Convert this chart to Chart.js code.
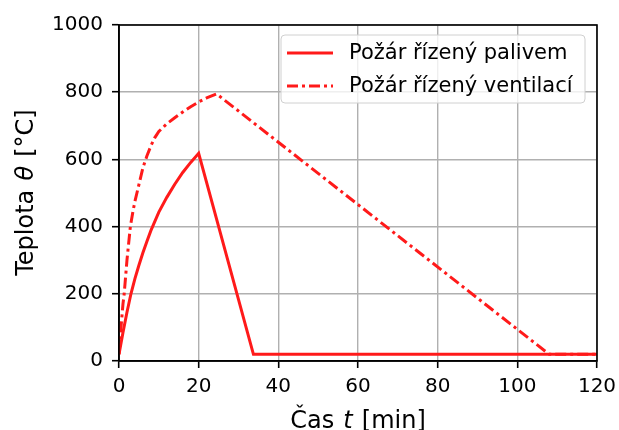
<!DOCTYPE html>
<html><head><meta charset="utf-8">
<script src="https://cdn.jsdelivr.net/npm/chart.js@4"></script>
<style>html,body{margin:0;padding:0;background:#fff}#wrap{width:619px;height:430px;position:relative}</style>
</head><body><div id="wrap"><canvas id="c" width="619" height="430"></canvas></div>
<script>
// Data
const fuelTime = [0,1,2,3,4,5,6,7,8,10,12,14,16,18,20,33.75,120];
const fuelTemp = [20,85,145,200,245,285,322,356,388,443,487,526,561,591,618,20,20];
const ventTime = [0,0.5,1,1.3,2,2.85,3.5,4,5,6,7,8,9,10,12,14,16,18,20,22,24.5,108,120];
const ventTemp = [20,100,170,200,300,400,445,475,525,575,610,640,665,683,706,724,741,757,771,783,795,20,20];
const seriesLabels = ['Požár řízený palivem','Požár řízený ventilací'];
const xTicks = [0,20,40,60,80,100,120];
const yTicks = [0,200,400,600,800,1000];
const xTitleParts = [['Čas ',false],['t',true],[' [min]',false]];
const yTitleParts = [['Teplota ',false],['θ',true],[' [°C]',false]];

const FONT = '"DejaVu Sans", sans-serif';
const toPts = (xs, ys) => xs.map((x,i)=>({x:x,y:ys[i]}));

function drawParts(ctx, parts, size){
  const extra = 1.5;
  let w = 0;
  parts.forEach(p=>{ctx.font=(p[1]?'italic ':'')+size+'px '+FONT; w+=ctx.measureText(p[0]).width+(p[1]?2*extra:0);});
  let x = -w/2;
  parts.forEach(p=>{
    ctx.font=(p[1]?'italic ':'')+size+'px '+FONT;
    if(p[1]) x+=extra;
    ctx.fillText(p[0],x,0);
    x+=ctx.measureText(p[0]).width+(p[1]?extra:0);
  });
}

const decor = {
  id:'decor',
  afterDraw(chart){
    const ctx = chart.ctx, a = chart.chartArea;
    ctx.save();
    // frame
    ctx.strokeStyle='#000'; ctx.lineWidth=1.6;
    ctx.strokeRect(a.left, a.top, a.right-a.left, a.bottom-a.top);
    // legend
    const lx=281, ly=35, lw=304, lh=68, r=4;
    ctx.beginPath();
    ctx.moveTo(lx+r,ly); ctx.lineTo(lx+lw-r,ly); ctx.quadraticCurveTo(lx+lw,ly,lx+lw,ly+r);
    ctx.lineTo(lx+lw,ly+lh-r); ctx.quadraticCurveTo(lx+lw,ly+lh,lx+lw-r,ly+lh);
    ctx.lineTo(lx+r,ly+lh); ctx.quadraticCurveTo(lx,ly+lh,lx,ly+lh-r);
    ctx.lineTo(lx,ly+r); ctx.quadraticCurveTo(lx,ly,lx+r,ly); ctx.closePath();
    ctx.fillStyle='rgba(255,255,255,0.8)'; ctx.fill();
    ctx.strokeStyle='#d0d0d0'; ctx.lineWidth=1; ctx.stroke();
    chart.data.datasets.forEach((ds,i)=>{
      const y = 53 + i*33;
      ctx.strokeStyle=ds.borderColor; ctx.lineWidth=ds.borderWidth;
      ctx.setLineDash(ds.borderDash||[]);
      ctx.beginPath(); ctx.moveTo(287,y); ctx.lineTo(333,y); ctx.stroke();
      ctx.setLineDash([]);
      ctx.fillStyle='#000'; ctx.font='21px '+FONT; ctx.textBaseline='middle'; ctx.textAlign='left';
      ctx.fillText(ds.label, 349, y+1);
    });
    // axis titles
    ctx.fillStyle='#000'; ctx.textBaseline='alphabetic'; ctx.textAlign='left';
    ctx.save(); ctx.translate((a.left+a.right)/2, 428); drawParts(ctx, xTitleParts, 24); ctx.restore();
    ctx.save(); ctx.translate(32.5, 192.5); ctx.rotate(-Math.PI/2); drawParts(ctx, yTitleParts, 24); ctx.restore();
    ctx.restore();
  }
};

new Chart(document.getElementById('c'), {
  type:'scatter',
  data:{datasets:[
    {label:seriesLabels[0], data:toPts(fuelTime,fuelTemp), showLine:true, borderColor:'#ff1a1a', backgroundColor:'#ff1a1a', borderWidth:3, pointRadius:0, tension:0, fill:false},
    {label:seriesLabels[1], data:toPts(ventTime,ventTemp), showLine:true, borderColor:'#ff1a1a', backgroundColor:'#ff1a1a', borderWidth:3, borderDash:[11,4,3,4], pointRadius:0, tension:0, fill:false}
  ]},
  options:{
    responsive:false, animation:false,
    layout:{padding:{top:25,right:22,left:0,bottom:0}},
    plugins:{legend:{display:false}, tooltip:{enabled:false}},
    scales:{
      x:{type:'linear', min:0, max:120,
        afterBuildTicks:s=>{s.ticks=xTicks.map(v=>({value:v}));},
        afterFit:s=>{s.height=69; s.paddingRight=0; s.paddingLeft=0;},
        ticks:{color:'#000', font:{family:FONT,size:20}, padding:7, maxRotation:0, callback:v=>String(v)},
        grid:{color:'#b0b0b0', lineWidth:1.4, tickColor:'#000', tickLength:7, tickWidth:1.6},
        border:{display:true,color:'#000',width:1.6}
      },
      y:{type:'linear', min:0, max:1000,
        afterBuildTicks:s=>{s.ticks=yTicks.map(v=>({value:v}));},
        afterFit:s=>{s.width=119; s.paddingTop=0; s.paddingBottom=0;},
        ticks:{color:'#000', font:{family:FONT,size:20}, padding:9, callback:v=>String(v)},
        grid:{color:'#b0b0b0', lineWidth:1.4, tickColor:'#000', tickLength:7, tickWidth:1.6},
        border:{display:true,color:'#000',width:1.6}
      }
    }
  },
  plugins:[decor]
});
</script>
</body></html>
